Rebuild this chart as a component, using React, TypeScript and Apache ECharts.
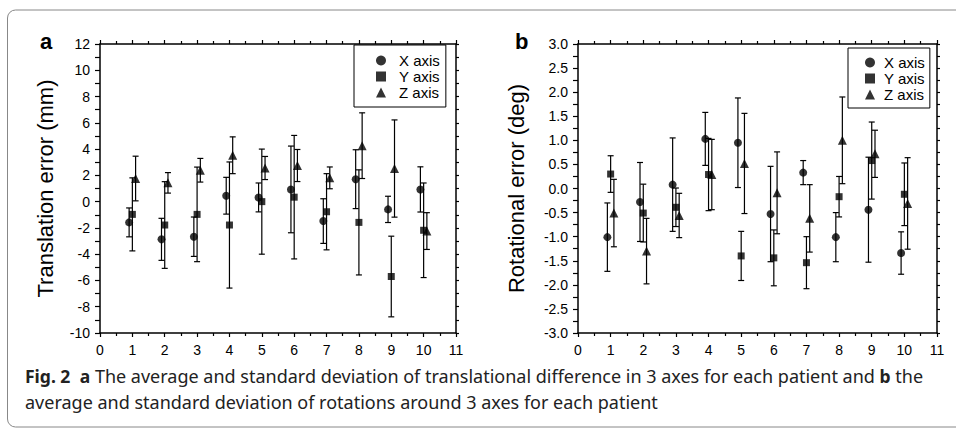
import React, { useEffect, useRef } from "react";
import * as echarts from "echarts";

// Patients on the x axis
const patients = [1, 2, 3, 4, 5, 6, 7, 8, 9, 10];
const seriesNames = ["X axis", "Y axis", "Z axis"];
const symbols = ["circle", "rect", "triangle"];
const xOffsets = [-0.1, 0, 0.1];

// Panel a: translation error (mm), mean and standard deviation
const transXMean = [-1.58, -2.87, -2.67, 0.45, 0.32, 0.93, -1.48, 1.71, -0.59, 0.93];
const transXStd = [1.1, 1.6, 1.5, 1.4, 1.1, 3.3, 1.7, 2.24, 1.0, 1.72];
const transYMean = [-0.97, -1.78, -0.97, -1.78, 0.0, 0.34, -0.77, -1.58, -5.7, -2.18];
const transYStd = [2.78, 3.3, 3.6, 4.8, 4.0, 4.7, 2.9, 4.0, 3.07, 3.6];
const transZMean = [1.76, 1.43, 2.39, 3.53, 2.56, 2.75, 1.81, 4.26, 2.52, -2.24];
const transZStd = [1.7, 0.78, 0.9, 1.4, 0.88, 1.22, 0.83, 2.5, 3.7, 1.4];

// Panel b: rotational error (deg), mean and standard deviation
const rotXMean = [-1.01, -0.28, 0.08, 1.03, 0.95, -0.53, 0.33, -1.01, -0.44, -1.34];
const rotXStd = [0.71, 0.82, 0.97, 0.55, 0.93, 0.99, 0.25, 0.51, 1.09, 0.44];
const rotYMean = [0.3, -0.51, -0.39, 0.29, -1.4, -1.44, -1.54, -0.17, 0.58, -0.12];
const rotYStd = [0.38, 0.6, 0.4, 0.75, 0.51, 0.58, 0.54, 0.42, 0.8, 0.65];
const rotZMean = [-0.51, -1.3, -0.56, 0.29, 0.52, -0.09, -0.62, 1.0, 0.72, -0.31];
const rotZStd = [0.7, 0.68, 0.46, 0.73, 1.04, 0.85, 0.7, 0.9, 0.49, 0.95];

const xTickLabels = ["0", "1", "2", "3", "4", "5", "6", "7", "8", "9", "10", "11"];

const captionLine1 =
  "{b|Fig. 2}  {b|a} The average and standard deviation of translational difference in 3 axes for each patient and {b|b} the";
const captionLine2 = "average and standard deviation of rotations around 3 axes for each patient";

const FONT = "Liberation Sans, Arial, sans-serif";
const CAPTION_FONT = "Noto Sans, sans-serif";

export default function App() {
  const ref = useRef<HTMLDivElement>(null);

  useEffect(() => {
    if (!ref.current) return;
    const chart = echarts.init(ref.current, undefined, { renderer: "svg" });

    const panels = [
      { means: [transXMean, transYMean, transZMean], stds: [transXStd, transYStd, transZStd] },
      { means: [rotXMean, rotYMean, rotZMean], stds: [rotXStd, rotYStd, rotZStd] },
    ];

    const series: any[] = [];
    panels.forEach((p, pi) => {
      for (let k = 0; k < 3; k++) {
        const errData = patients.map((pt, i) => [
          pt + xOffsets[k],
          p.means[k][i] - p.stds[k][i],
          p.means[k][i] + p.stds[k][i],
        ]);
        series.push({
          type: "custom",
          name: seriesNames[k] + " sd",
          xAxisIndex: pi,
          yAxisIndex: pi,
          data: errData,
          encode: { x: 0, y: [1, 2] },
          z: 2,
          renderItem: (params: any, api: any) => {
            const x = api.value(0);
            const lo = api.coord([x, api.value(1)]);
            const hi = api.coord([x, api.value(2)]);
            const hw = 3;
            const st = { stroke: "#000", lineWidth: 1.2 };
            return {
              type: "group",
              children: [
                { type: "line", shape: { x1: lo[0], y1: lo[1], x2: hi[0], y2: hi[1] }, style: st },
                { type: "line", shape: { x1: lo[0] - hw, y1: lo[1], x2: lo[0] + hw, y2: lo[1] }, style: st },
                { type: "line", shape: { x1: hi[0] - hw, y1: hi[1], x2: hi[0] + hw, y2: hi[1] }, style: st },
              ],
            };
          },
        });
        series.push({
          type: "scatter",
          name: seriesNames[k],
          xAxisIndex: pi,
          yAxisIndex: pi,
          symbol: symbols[k],
          symbolSize: k === 0 ? 8 : k === 1 ? 7 : 9,
          itemStyle: { color: "#000" },
          z: 3,
          data: patients.map((pt, i) => [pt + xOffsets[k], p.means[k][i]]),
        });
      }
    });

    const axisLine = { onZero: false, lineStyle: { color: "#000", width: 1.5 } };
    const tickStyle = { lineStyle: { color: "#000", width: 1.2 } };
    const labelStyle = { color: "#000", fontSize: 14, fontFamily: FONT };

    const xAxisBase = (gi: number) => ({
      type: "value",
      gridIndex: gi,
      min: 0,
      max: 11,
      interval: 1,
      axisLine,
      axisTick: { ...tickStyle, length: 4 },
      minorTick: { show: true, splitNumber: 2, length: 3, lineStyle: { color: "#000", width: 1.2 } },
      splitLine: { show: false },
      axisLabel: { ...labelStyle, margin: 10, formatter: (v: number) => xTickLabels[v] ?? String(v) },
    });
    const xTop = (gi: number) => ({
      ...xAxisBase(gi),
      position: "top",
      axisLabel: { show: false },
    });

    const yA = {
      type: "value",
      gridIndex: 0,
      min: -10,
      max: 12,
      interval: 2,
      axisLine,
      axisTick: { ...tickStyle, length: 5 },
      minorTick: { show: true, splitNumber: 2, length: 5, lineStyle: { color: "#000", width: 1.2 } },
      splitLine: { show: false },
      axisLabel: { ...labelStyle, margin: 10 },
      name: "Translation error (mm)",
      nameLocation: "middle",
      nameGap: 44,
      nameTextStyle: { color: "#000", fontSize: 22, fontFamily: FONT },
    };
    const yB = {
      type: "value",
      gridIndex: 1,
      min: -3,
      max: 3,
      interval: 0.5,
      axisLine,
      axisTick: { ...tickStyle, length: 5 },
      minorTick: { show: true, splitNumber: 2, length: 5, lineStyle: { color: "#000", width: 1.2 } },
      splitLine: { show: false },
      axisLabel: { ...labelStyle, margin: 10, formatter: (v: number) => v.toFixed(1) },
      name: "Rotational error (deg)",
      nameLocation: "middle",
      nameGap: 51,
      nameTextStyle: { color: "#000", fontSize: 22, fontFamily: FONT },
    };
    const yRight = (base: any) => ({
      ...base,
      position: "right",
      name: "",
      axisTick: { ...tickStyle, length: 3 },
      minorTick: { show: true, splitNumber: 2, length: 3, lineStyle: { color: "#000", width: 1.2 } },
      axisLabel: { show: false },
    });

    const legendBase = {
      orient: "vertical",
      data: seriesNames.map((n, i) => ({ name: n, icon: symbols[i] })),
      itemWidth: 10,
      itemHeight: 10,
      itemGap: 1,
      borderColor: "#000",
      borderWidth: 1,
      backgroundColor: "#fff",
      padding: [8, 6, 7, 22],
      selectedMode: false,
      textStyle: { color: "#000", fontSize: 15, fontFamily: FONT, padding: [0, 0, 0, 8] },
    };

    chart.setOption({
      animation: false,
      backgroundColor: "#fff",
      grid: [
        { left: 100, right: 500, top: 44, bottom: 96 },
        { left: 578, right: 19, top: 44, bottom: 96 },
      ],
      xAxis: [xAxisBase(0), xAxisBase(1), xTop(0), xTop(1)],
      yAxis: [yA, yB, yRight({ ...yA, gridIndex: 0 }), yRight({ ...yB, gridIndex: 1 })],
      legend: [
        { ...legendBase, left: 354, top: 45 },
        {
          ...legendBase,
          left: 848,
          top: 48,
          padding: [7, 5, 6, 17],
          textStyle: { ...legendBase.textStyle, padding: [0, 0, 0, 4] },
        },
      ],
      series,
      graphic: [
        {
          type: "rect",
          silent: true,
          shape: { x: 7.5, y: 10, width: 1000, height: 417, r: 8 },
          style: { fill: "none", stroke: "#888", lineWidth: 1 },
          z: -1,
        },
        {
          type: "text",
          x: 40,
          y: 30,
          style: { text: "a", fontSize: 22, fontWeight: "bold", fontFamily: FONT, fill: "#000" },
        },
        {
          type: "text",
          x: 515,
          y: 30,
          style: { text: "b", fontSize: 22, fontWeight: "bold", fontFamily: FONT, fill: "#000" },
        },
        {
          type: "text",
          x: 25,
          y: 366,
          style: {
            text: captionLine1,
            fontSize: 18,
            lineHeight: 20,
            fontFamily: CAPTION_FONT,
            fill: "#222",
            rich: {
              b: { fontWeight: "bold", fontSize: 17.5, lineHeight: 20, fontFamily: CAPTION_FONT, fill: "#222" },
            },
          },
        },
        {
          type: "text",
          x: 25,
          y: 391.5,
          style: {
            text: captionLine2,
            fontSize: 18,
            lineHeight: 20,
            fontFamily: CAPTION_FONT,
            fill: "#222",
          },
        },
      ],
    });

    return () => chart.dispose();
  }, []);

  return (
    <div
      ref={ref}
      style={{ position: "fixed", left: 0, top: 0, width: 956, height: 429, background: "#fff" }}
    />
  );
}
